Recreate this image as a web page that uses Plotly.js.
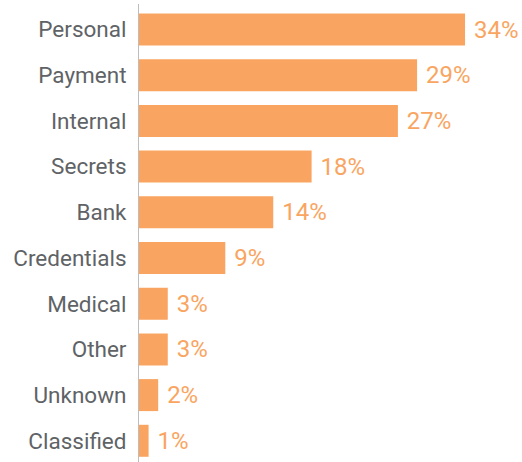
<!DOCTYPE html>
<html>
<head>
<meta charset="utf-8">
<script src="https://cdn.plot.ly/plotly-3.0.1.min.js"></script>
<style>html,body{margin:0;padding:0;background:#fff;}#chart{width:522px;height:462px;}</style>
</head>
<body>
<div id="chart"></div>
<script>
const categories = ["Personal","Payment","Internal","Secrets","Bank","Credentials","Medical","Other","Unknown","Classified"];
const percentages = [34, 29, 27, 18, 14, 9, 3, 3, 2, 1];

const barColor = "#F9A561";
const trace = {
  type: "bar",
  orientation: "h",
  y: categories,
  x: percentages,
  marker: {color: barColor},
  texttemplate: "\u00a0%{x}%",
  textposition: "outside",
  constraintext: "none",
  cliponaxis: false,
  textfont: {family: "Roboto, sans-serif", size: 24, color: barColor},
  hoverinfo: "none"
};
const layout = {
  width: 522, height: 462,
  margin: {l: 139, r: 0, t: 4, b: 0, pad: 0},
  paper_bgcolor: "#fff", plot_bgcolor: "#fff",
  showlegend: false,
  bargap: 0.3,
  xaxis: {range: [0, 39.94], showgrid: false, zeroline: false, showticklabels: false, showline: false, ticks: ""},
  yaxis: {
    type: "category",
    range: [9.464, -0.558],
    showgrid: false, zeroline: false,
    showline: true, linecolor: "#bdbdbd", linewidth: 1,
    ticks: "", ticklabelstandoff: 7,
    tickfont: {family: "Roboto, sans-serif", size: 22.5, color: "#5f6366"}
  }
};
Plotly.newPlot("chart", [trace], layout, {displayModeBar: false, staticPlot: true});
</script>
</body>
</html>
